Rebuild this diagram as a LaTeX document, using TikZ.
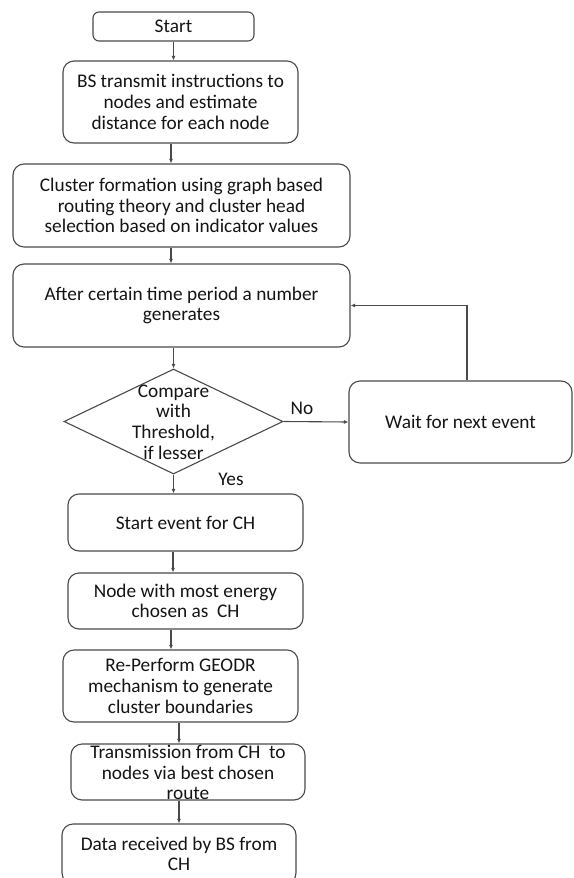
\documentclass[tikz,border=0pt]{standalone}
\usepackage{fontspec}
\setmainfont{Carlito}
\usetikzlibrary{arrows.meta,shapes.geometric}
\definecolor{linec}{HTML}{4A4A4A}
\definecolor{txtc}{HTML}{141414}
\begin{document}
\begin{tikzpicture}[x=1pt,y=-1pt,
  box/.style={draw=linec, line width=1.1pt, rounded corners=11pt, inner sep=0pt,
    align=center, text=txtc, font=\fontsize{19.3}{20.7}\selectfont},
  txt/.style={inner sep=0pt, align=center, text=txtc, font=\fontsize{19.3}{20.7}\selectfont},
  arr/.style={draw=linec, line width=1.1pt, -{Latex[length=4.5pt,width=4pt]}}
]
\useasboundingbox (0,0) rectangle (573,878);
\clip (0,0) rectangle (573,878);

\node[box, rounded corners=6pt, minimum width=161pt, minimum height=29pt] (start) at (173.5,26.5) {Start};
\node[box, minimum width=235pt, minimum height=82pt] (bs) at (180.5,102)
  {BS transmit instructions to\\ nodes and estimate\\ distance for each node};
\node[box, minimum width=337pt, minimum height=83pt] (cl) at (181.5,205.5)
  {Cluster formation using graph based\\ routing theory and cluster head\\ selection based on indicator values};
\node[box, minimum width=337pt, minimum height=83pt] (af) at (181.5,305.5)
  {After certain time period a number\\ generates};
\node[draw=linec, line width=1.1pt, diamond, inner sep=0pt, minimum width=219pt, minimum height=105pt] (dia) at (173.5,421.5) {};
\node[txt] (diat) at (173.5,422) {Compare\\ with\\ Threshold,\\ if lesser};
\node[box, minimum width=223pt, minimum height=82pt] (wait) at (460.5,422) {Wait for next event};
\node[box, minimum width=235pt, minimum height=57pt] (se) at (185.5,522.5) {Start event for CH};
\node[box, minimum width=235pt, minimum height=56pt] (ne) at (185.5,601)
  {Node with most energy\\ chosen as~~CH};
\node[box, minimum width=235pt, minimum height=72pt] (rp) at (180.5,686)
  {Re-Perform GEODR\\ mechanism to generate\\ cluster boundaries};
\node[box, minimum width=234pt, minimum height=56pt] (tx) at (188,772) {};
\node[txt] (txt) at (188,772.5) {Transmission from CH~~to\\ nodes via best chosen\\ route};
\node[box, minimum width=234pt, minimum height=60pt] (dr) at (179,854)
  {Data received by BS from\\ CH};

\node[txt] (no) at (302,408) {No};
\node[txt] (yes) at (231,479) {Yes};

\path ([xshift=-9.5pt]bs.south) coordinate (b1)
      ([xshift=-10.5pt]cl.south) coordinate (c1)
      ([xshift=6.5pt]wait.north) coordinate (w1)
      ([xshift=-12.5pt]se.south) coordinate (s1)
      ([xshift=-14.5pt]ne.south) coordinate (n1)
      ([xshift=-1.5pt]rp.south) coordinate (r1)
      ([xshift=-9pt]tx.south) coordinate (t1);

\draw[arr] (start.south) -- (start.south |- bs.north);
\draw[arr] (b1) -- (b1 |- cl.north);
\draw[arr] (c1) -- (c1 |- af.north);
\draw[arr] (af.south -| dia.north) -- (dia.north);
\draw[arr] (dia.east) -- (wait.west);
\draw[arr] (w1) |- (af.east);
\draw[arr] (dia.south) -- (dia.south |- se.north);
\draw[arr] (s1) -- (s1 |- ne.north);
\draw[arr] (n1) -- (n1 |- rp.north);
\draw[arr] (r1) -- (r1 |- tx.north);
\draw[arr] (t1) -- (t1 |- dr.north);
\end{tikzpicture}
\end{document}
